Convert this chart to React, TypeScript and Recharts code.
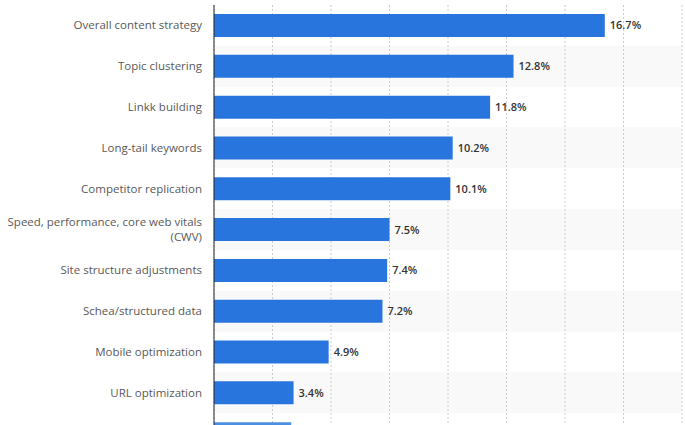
import { BarChart, Bar, XAxis, YAxis, CartesianGrid, LabelList, Cell } from "recharts";

const categories = [
  "Overall content strategy",
  "Topic clustering",
  "Linkk building",
  "Long-tail keywords",
  "Competitor replication",
  "Speed, performance, core web vitals (CWV)",
  "Site structure adjustments",
  "Schea/structured data",
  "Mobile optimization",
  "URL optimization",
  "Other",
];
const shares = [16.7, 12.8, 11.8, 10.2, 10.1, 7.5, 7.4, 7.2, 4.9, 3.4, 3.3];
const xTicks = [0, 2.5, 5, 7.5, 10, 12.5, 15, 17.5, 20];

const data = categories.map((category, i) => ({ category, share: shares[i] }));

const FONT = "'Open Sans', sans-serif";
const BLUE = "#2876dd";
const LAST = categories.length - 1; // row cut off by the bottom edge
const TICK_SIZE = 11.5;
const LINE_H = 14.5;

let ctx: CanvasRenderingContext2D | null = null;
function wrap(label: string, maxWidth: number): string[] {
  if (!ctx) {
    ctx = document.createElement("canvas").getContext("2d");
    if (ctx) ctx.font = `${TICK_SIZE}px ${FONT}`;
  }
  const words = label.split(" ");
  const lines: string[] = [];
  let cur = "";
  for (const w of words) {
    const next = cur ? `${cur} ${w}` : w;
    if (cur && ctx && ctx.measureText(next).width > maxWidth) {
      lines.push(cur);
      cur = w;
    } else {
      cur = next;
    }
  }
  if (cur) lines.push(cur);
  return lines;
}

function CategoryTick(props: any) {
  const { x, y, payload, index } = props;
  if (index === LAST) return null;
  const lines = wrap(payload.value, 198);
  const startDy = (-(lines.length - 1) * LINE_H) / 2;
  return (
    <text
      x={x}
      y={y}
      textAnchor="end"
      fontFamily={FONT}
      fontSize={TICK_SIZE}
      fill="#595959"
    >
      {lines.map((line, i) => (
        <tspan key={i} x={x} dy={i === 0 ? startDy + 4 : LINE_H}>
          {line}
        </tspan>
      ))}
    </text>
  );
}

function ValueLabel(props: any) {
  const { x, y, width, height, value, index } = props;
  if (index === LAST) return null;
  return (
    <text
      x={x + width + 5}
      y={y + height / 2}
      dy="0.36em"
      fontFamily={FONT}
      fontSize={11}
      fontWeight={600}
      fill="#333"
    >
      {`${value}%`}
    </text>
  );
}

// band edges, so the grid fill gives one stripe per category
const bandEdges = ({ offset }: any) =>
  categories.map((_, i) => offset.top + (i * offset.height) / categories.length);

export default function App() {
  return (
    <div style={{ position: "absolute", top: 0, left: 0, width: 685, height: 425, overflow: "hidden", background: "#fff" }}>
      <BarChart
        width={685}
        height={454}
        data={data}
        layout="vertical"
        margin={{ top: 5, right: 3, left: 0, bottom: 0 }}
      >
        <CartesianGrid
          vertical={false}
          stroke="none"
          horizontalFill={["#ffffff", "#f9f9f9"]}
          horizontalCoordinatesGenerator={bandEdges}
        />
        <CartesianGrid horizontal={false} stroke="#cccccc" strokeDasharray="2 2" />
        <XAxis type="number" domain={[0, 20]} ticks={xTicks} hide />
        <YAxis
          type="category"
          dataKey="category"
          width={214}
          axisLine={{ stroke: "#222", strokeWidth: 1 }}
          tickLine={false}
          tickMargin={6}
          tick={<CategoryTick />}
          interval={0}
        />
        <Bar dataKey="share" barSize={23} fill={BLUE} isAnimationActive={false}>
          {data.map((d, i) => (
            <Cell key={d.category} fill={i === LAST ? "#4b8fe2" : BLUE} />
          ))}
          <LabelList dataKey="share" content={<ValueLabel />} />
        </Bar>
      </BarChart>
    </div>
  );
}
